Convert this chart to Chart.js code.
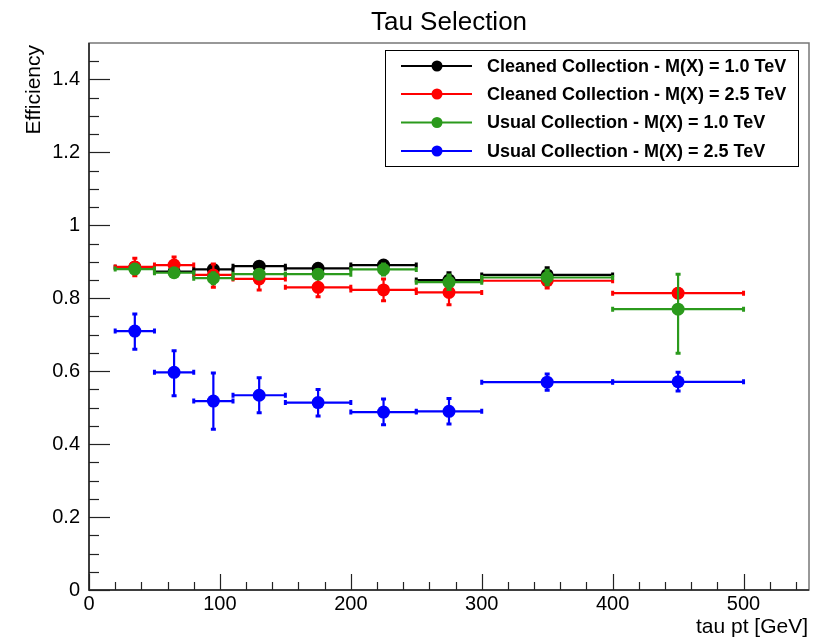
<!DOCTYPE html>
<html>
<head>
<meta charset="utf-8">
<title>Tau Selection</title>
<script src="https://cdn.jsdelivr.net/npm/chart.js@4.4.1/dist/chart.umd.min.js"></script>
<style>
  html, body { margin: 0; padding: 0; background: #fff; }
  #wrap { width: 830px; height: 642px; }
</style>
</head>
<body>
<div id="wrap"><canvas id="tauChart" width="830" height="642"></canvas></div>
<script>
// tau pt bins (GeV): centre and half width
const binCenters = [35, 65, 95, 130, 175, 225, 275, 350, 450];
const binHalfWidths = [15, 15, 15, 20, 25, 25, 25, 50, 50];

// Cleaned Collection - M(X) = 1.0 TeV
const cleaned10Eff = [0.885, 0.873, 0.879, 0.888, 0.882, 0.891, 0.850, 0.864, null];
const cleaned10Up = [0.010, 0.010, 0.010, 0.010, 0.010, 0.012, 0.020, 0.020, null];
const cleaned10Down = [0.010, 0.010, 0.010, 0.010, 0.010, 0.012, 0.020, 0.020, null];

// Cleaned Collection - M(X) = 2.5 TeV
const cleaned25Eff = [0.886, 0.891, 0.864, 0.853, 0.830, 0.823, 0.816, 0.848, 0.814];
const cleaned25Up = [0.024, 0.022, 0.030, 0.026, 0.024, 0.030, 0.032, 0.020, 0.012];
const cleaned25Down = [0.024, 0.022, 0.034, 0.030, 0.026, 0.030, 0.034, 0.020, 0.012];

// Usual Collection - M(X) = 1.0 TeV
const usual10Eff = [0.880, 0.870, 0.855, 0.866, 0.866, 0.879, 0.844, 0.857, 0.770];
const usual10Up = [0.010, 0.010, 0.015, 0.010, 0.010, 0.015, 0.020, 0.020, 0.096];
const usual10Down = [0.010, 0.010, 0.015, 0.010, 0.010, 0.015, 0.020, 0.020, 0.121];

// Usual Collection - M(X) = 2.5 TeV
const usual25Eff = [0.710, 0.597, 0.518, 0.534, 0.514, 0.488, 0.490, 0.570, 0.571];
const usual25Up = [0.047, 0.059, 0.077, 0.048, 0.036, 0.036, 0.035, 0.022, 0.026];
const usual25Down = [0.050, 0.064, 0.077, 0.048, 0.037, 0.035, 0.035, 0.022, 0.025];

const seriesNames = [
    'Cleaned Collection - M(X) = 1.0 TeV',
    'Cleaned Collection - M(X) = 2.5 TeV',
    'Usual Collection - M(X) = 1.0 TeV',
    'Usual Collection - M(X) = 2.5 TeV'
];
const seriesColors = ['#000000', '#ff0000', '#2b9a1c', '#0000ff'];

const xTickLabels = [0, 100, 200, 300, 400, 500];
const yTickLabels = [0, 0.2, 0.4, 0.6, 0.8, 1, 1.2, 1.4];

const FONT = "'Liberation Sans', Arial, Helvetica, sans-serif";

function buildPoints(eff, up, down) {
    return binCenters.map((x, i) => ({
        x: x, y: eff[i], xw: binHalfWidths[i], up: up[i], dn: down[i]
    })).filter(p => p.y !== null);
}

// 에러바: 각 데이터셋 마커 밑에 먼저 그림
const errorBarPlugin = {
    id: 'errorBars',
    beforeDatasetDraw(chart, args) {
        const ds = chart.data.datasets[args.index];
        const { ctx, scales: { x: xs, y: ys } } = chart;
        ctx.save();
        ctx.strokeStyle = ds.borderColor;
        ds.data.forEach(p => {
            const x0 = xs.getPixelForValue(p.x - p.xw);
            const x1 = xs.getPixelForValue(p.x + p.xw);
            const xc = xs.getPixelForValue(p.x);
            const yc = ys.getPixelForValue(p.y);
            const yt = ys.getPixelForValue(p.y + p.up);
            const yb = ys.getPixelForValue(p.y - p.dn);
            ctx.lineWidth = 2.2;
            ctx.beginPath();
            ctx.moveTo(x0, yc); ctx.lineTo(x1, yc);
            ctx.moveTo(xc, yt); ctx.lineTo(xc, yb);
            ctx.stroke();
            ctx.lineWidth = 3;
            ctx.beginPath();
            ctx.moveTo(x0, yc - 2.5); ctx.lineTo(x0, yc + 2.5);
            ctx.moveTo(x1, yc - 2.5); ctx.lineTo(x1, yc + 2.5);
            ctx.moveTo(xc - 2.5, yt); ctx.lineTo(xc + 2.5, yt);
            ctx.moveTo(xc - 2.5, yb); ctx.lineTo(xc + 2.5, yb);
            ctx.stroke();
        });
        ctx.restore();
    }
};

// ROOT 스타일 프레임, 안쪽 눈금, 제목, 범례
const rootStylePlugin = {
    id: 'rootStyle',
    afterDraw(chart) {
        const { ctx, chartArea: { left, right, top, bottom }, scales: { x: xs, y: ys } } = chart;
        ctx.save();

        // frame
        ctx.strokeStyle = '#777';
        ctx.lineWidth = 1.5;
        ctx.strokeRect(left, top, right - left, bottom - top);
        ctx.strokeStyle = '#222';
        ctx.lineWidth = 1.5;
        ctx.beginPath();
        ctx.moveTo(left, top); ctx.lineTo(left, bottom); ctx.lineTo(right, bottom);
        ctx.stroke();

        // ticks inside
        ctx.lineWidth = 1.2;
        for (let v = 0; v < 1.5 - 1e-6; v += 0.05) {
            const py = Math.round(ys.getPixelForValue(v)) + 0.5;
            const major = Math.abs(v / 0.2 - Math.round(v / 0.2)) < 1e-6;
            ctx.beginPath();
            ctx.moveTo(left, py); ctx.lineTo(left + (major ? 21 : 10), py);
            ctx.stroke();
        }
        for (let v = 0; v <= 540; v += 20) {
            const px = Math.round(xs.getPixelForValue(v)) + 0.5;
            const major = v % 100 === 0;
            ctx.beginPath();
            ctx.moveTo(px, bottom); ctx.lineTo(px, bottom - (major ? 16 : 8));
            ctx.stroke();
        }

        // title + axis titles
        ctx.fillStyle = '#000';
        ctx.font = `26px ${FONT}`;
        ctx.textAlign = 'center';
        ctx.textBaseline = 'alphabetic';
        ctx.fillText('Tau Selection', 449, 30);

        ctx.font = `21px ${FONT}`;
        ctx.textAlign = 'right';
        ctx.fillText('tau pt [GeV]', 808, 633);

        ctx.save();
        ctx.translate(40, 45);
        ctx.rotate(-Math.PI / 2);
        ctx.font = `21px ${FONT}`;
        ctx.textAlign = 'right';
        ctx.fillText('Efficiency', 0, 0);
        ctx.restore();

        // legend
        const lx = 385, ly = 50, lw = 413, lh = 116;
        ctx.fillStyle = '#fff';
        ctx.fillRect(lx, ly, lw, lh);
        ctx.strokeStyle = '#000';
        ctx.lineWidth = 1;
        ctx.strokeRect(lx + 0.5, ly + 0.5, lw, lh);
        const rowY = [66, 94, 122.5, 151];
        ctx.font = `bold 18px ${FONT}`;
        ctx.textAlign = 'left';
        ctx.textBaseline = 'middle';
        seriesNames.forEach((name, i) => {
            ctx.strokeStyle = seriesColors[i];
            ctx.fillStyle = seriesColors[i];
            ctx.lineWidth = 2;
            ctx.beginPath();
            ctx.moveTo(401, rowY[i]); ctx.lineTo(472, rowY[i]);
            ctx.stroke();
            ctx.beginPath();
            ctx.arc(437, rowY[i], 5.5, 0, Math.PI * 2);
            ctx.fill();
            ctx.fillStyle = '#000';
            ctx.fillText(name, 487, rowY[i] + 1);
        });
        ctx.restore();
    }
};

const effSets = [
    [cleaned10Eff, cleaned10Up, cleaned10Down],
    [cleaned25Eff, cleaned25Up, cleaned25Down],
    [usual10Eff, usual10Up, usual10Down],
    [usual25Eff, usual25Up, usual25Down]
];

const datasets = effSets.map(([eff, up, dn], i) => ({
    label: seriesNames[i],
    data: buildPoints(eff, up, dn),
    borderColor: seriesColors[i],
    backgroundColor: seriesColors[i],
    pointBackgroundColor: seriesColors[i],
    pointBorderWidth: 0,
    pointRadius: 6.5,
    showLine: false,
    order: 4 - i
}));

new Chart(document.getElementById('tauChart').getContext('2d'), {
    type: 'scatter',
    data: { datasets },
    options: {
        responsive: false,
        animation: false,
        devicePixelRatio: 1,
        layout: { padding: { left: 0, right: 21, top: 43, bottom: 0 } },
        plugins: { legend: { display: false }, tooltip: { enabled: false }, title: { display: false } },
        scales: {
            x: {
                type: 'linear', min: 0, max: 550,
                grid: { display: false, drawTicks: false },
                border: { display: false },
                afterFit: s => { s.height = 52; },
                afterBuildTicks: s => { s.ticks = xTickLabels.map(v => ({ value: v })); },
                ticks: { color: '#000', padding: 2, maxRotation: 0, font: { family: FONT, size: 20 } }
            },
            y: {
                type: 'linear', min: 0, max: 1.5,
                grid: { display: false, drawTicks: false },
                border: { display: false },
                afterFit: s => { s.width = 89; },
                afterBuildTicks: s => { s.ticks = yTickLabels.map(v => ({ value: v })); },
                ticks: { color: '#000', padding: 9, font: { family: FONT, size: 20 },
                         callback: v => String(Math.round(v * 10) / 10) }
            }
        }
    },
    plugins: [errorBarPlugin, rootStylePlugin]
});
</script>
</body>
</html>
